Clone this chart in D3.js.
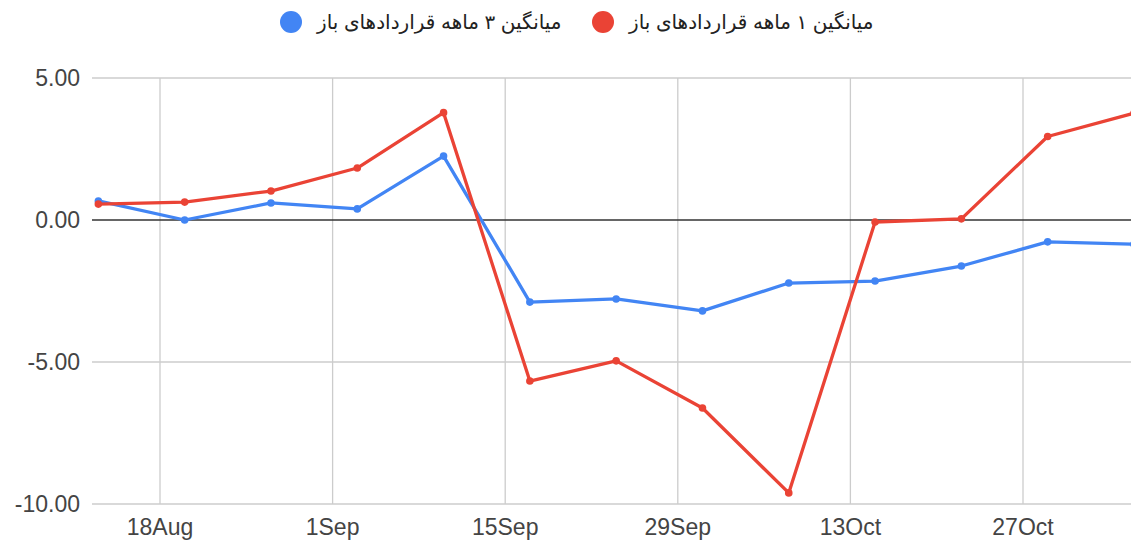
<!DOCTYPE html>
<html>
<head>
<meta charset="utf-8">
<script src="https://cdn.jsdelivr.net/npm/d3@7"></script>
<style>
  body { margin: 0; background: #fff; }
  svg { display: block; font-family: Arial, "Liberation Sans", "DejaVu Sans", sans-serif; }
</style>
</head>
<body>
<svg id="chart" width="1131" height="540"></svg>
<script>
// weekly points
var dates = ["2023-08-13", "2023-08-20", "2023-08-27", "2023-09-03", "2023-09-10", "2023-09-17",
             "2023-09-24", "2023-10-01", "2023-10-08", "2023-10-15", "2023-10-22", "2023-10-29", "2023-11-05"];
var avg1m = [0.56, 0.63, 1.02, 1.83, 3.78, -5.67, -4.96, -6.62, -9.61, -0.07, 0.04, 2.94, 3.76];
var avg3m = [0.67, 0.00, 0.60, 0.39, 2.25, -2.89, -2.78, -3.20, -2.22, -2.15, -1.62, -0.77, -0.85];
var xTicks = ["2023-08-18", "2023-09-01", "2023-09-15", "2023-09-29", "2023-10-13", "2023-10-27"];
var yTicks = [5, 0, -5, -10];
var seriesNames = ["میانگین ۳ ماهه قراردادهای باز", "میانگین ۱ ماهه قراردادهای باز"];
var colors = ["#4285f4", "#ea4335"];

var parse = d3.utcParse("%Y-%m-%d");
var fmt = d3.utcFormat("%-d%b");

var svg = d3.select("#chart");
// note: "top" is taken by window.top, so prefix these
var plotLeft = 92, plotRight = 1131, plotTop = 78, plotBottom = 504;

var x = d3.scaleUtc()
    .domain([parse("2023-08-18"), parse("2023-10-27")])
    .range([160, 1023]);
var y = d3.scaleLinear().domain([-10, 5]).range([plotBottom, plotTop]);

// vertical grid
svg.append("g").selectAll("line")
  .data(xTicks.map(parse))
  .enter().append("line")
    .attr("x1", function(d) { return x(d); })
    .attr("x2", function(d) { return x(d); })
    .attr("y1", plotTop).attr("y2", plotBottom)
    .style("stroke", "#cccccc").style("stroke-width", 1.3);

// horizontal grid
svg.append("g").selectAll("line")
  .data(yTicks)
  .enter().append("line")
    .attr("x1", plotLeft).attr("x2", plotRight)
    .attr("y1", function(d) { return y(d); })
    .attr("y2", function(d) { return y(d); })
    .style("stroke", function(d) { return d === 0 ? "#333333" : "#cccccc"; })
    .style("stroke-width", 1.3);

// y labels (plain hyphen, not the unicode minus d3 uses)
svg.append("g").selectAll("text")
  .data(yTicks)
  .enter().append("text")
    .attr("x", 80)
    .attr("y", function(d) { return y(d); })
    .attr("dy", "0.36em")
    .attr("text-anchor", "end")
    .style("font-size", "23px")
    .style("fill", "#444")
    .text(function(d) { return d.toFixed(2); });

// x labels
svg.append("g").selectAll("text")
  .data(xTicks.map(parse))
  .enter().append("text")
    .attr("x", function(d) { return x(d); })
    .attr("y", 535)
    .attr("text-anchor", "middle")
    .style("font-size", "23px")
    .style("fill", "#444")
    .text(fmt);

var line = d3.line()
    .x(function(d) { return x(d.date); })
    .y(function(d) { return y(d.v); });

[avg3m, avg1m].forEach(function(vals, i) {
  var pts = vals.map(function(v, j) { return { date: parse(dates[j]), v: v }; });
  var g = svg.append("g");
  g.append("path")
    .datum(pts)
    .attr("d", line)
    .style("fill", "none")
    .style("stroke", colors[i])
    .style("stroke-width", 3.3)
    .style("stroke-linejoin", "round");
  g.selectAll("circle")
    .data(pts)
    .enter().append("circle")
      .attr("cx", function(d) { return x(d.date); })
      .attr("cy", function(d) { return y(d.v); })
      .attr("r", 3.8)
      .style("fill", colors[i]);
});

// legend
var legend = svg.append("g");
var lx = [291, 603];
seriesNames.forEach(function(name, i) {
  legend.append("circle")
    .attr("cx", lx[i]).attr("cy", 22).attr("r", 11)
    .style("fill", colors[i]);
  legend.append("text")
    .attr("x", lx[i] + 26).attr("y", 22).attr("dy", "0.35em")
    .attr("text-anchor", "start")
    .style("font-size", "20px")
    .style("fill", "#222")
    .text(name);
});
</script>
</body>
</html>
